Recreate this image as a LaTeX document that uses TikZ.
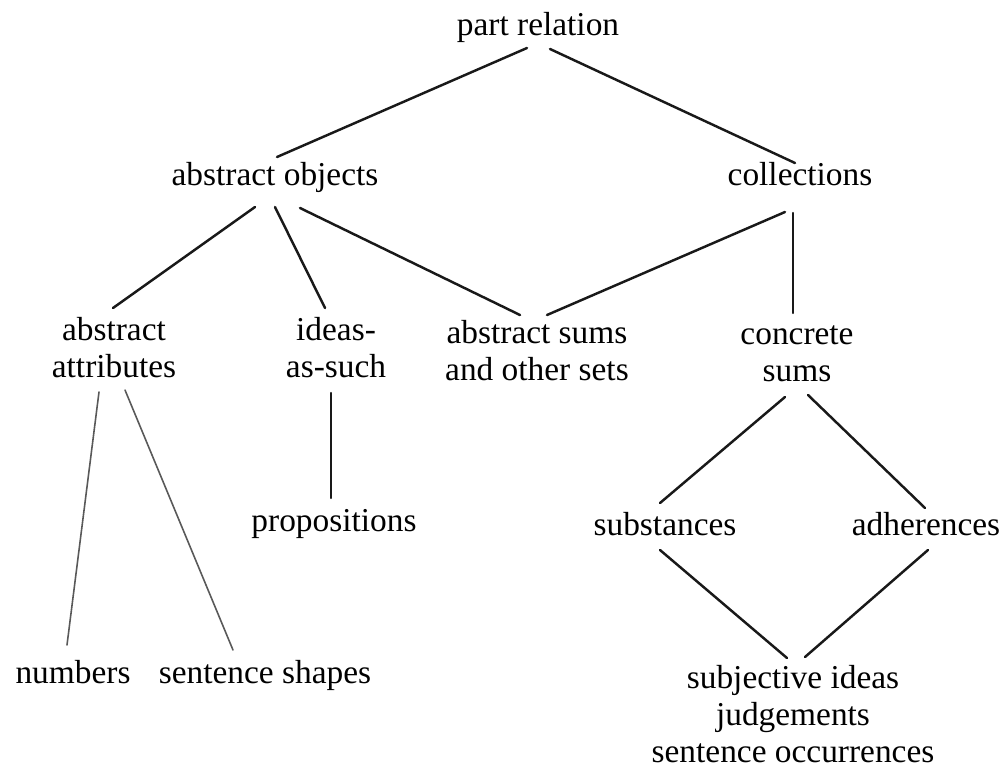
\documentclass[tikz,border=0pt]{standalone}
\usepackage{fontspec}
\setmainfont{Liberation Serif}

\tikzset{
  concept/.style={align=center, anchor=base, inner sep=0pt, font=\fontsize{19}{21}\selectfont},
  link/.style={line width=1.4pt, black!90, line cap=round},
  greylink/.style={line width=0.9pt, black!65, line cap=round},
}

\begin{document}
\begin{tikzpicture}[x=0.02cm, y=-0.02cm]
  \fill[white] (0,0) rectangle (1007,767);

  % top levels
  \node[concept] (part)   at (538, 36)  {part relation};
  \node[concept] (absobj) at (275, 185) {abstract objects};
  \node[concept] (coll)   at (800, 185) {collections};

  % middle row (base = last line)
  \node[concept] (attr)  at (114, 377) {abstract\\attributes};
  \node[concept] (ideas) at (336, 377) {ideas-\\as-such};
  \node[concept] (asums) at (537, 380) {abstract sums\\and other sets};
  \node[concept] (csums) at (797, 381) {concrete\\sums};

  % lower rows
  \node[concept] (props)   at (334, 531) {propositions};
  \node[concept] (subst)   at (665, 535) {substances};
  \node[concept] (adher)   at (926, 535) {adherences};
  \node[concept] (numbers) at (73, 683)  {numbers};
  \node[concept] (shapes)  at (265, 683) {sentence shapes};
  \node[concept] (subj)    at (793, 762) {subjective ideas\\judgements\\sentence occurrences};

  % connectors
  \draw[link] ([shift={(-11,12)}]part.base) -- ([shift={(2,-28)}]absobj.base);
  \draw[link] ([shift={(12,13)}]part.base) -- ([shift={(-5,-22)}]coll.base);
  \draw[link] ([shift={(-20,22)}]absobj.base) -- ([shift={(-1,-69)}]attr.base);
  \draw[link] ([shift={(0,22)}]absobj.base) -- ([shift={(-11,-69)}]ideas.base);
  \draw[link] ([shift={(25,23)}]absobj.base) -- ([shift={(-17,-65)}]asums.base);
  \draw[link] ([shift={(-15,27)}]coll.base) -- ([shift={(10,-65)}]asums.base);
  \draw[link] ([shift={(-7,28)}]coll.base) -- ([shift={(-4,-68)}]csums.base);
  \draw[greylink] ([shift={(-15,15)}]attr.base) -- ([shift={(-6,-38)}]numbers.base);
  \draw[greylink] ([shift={(11,13)}]attr.base) -- ([shift={(-32,-33)}]shapes.base);
  \draw[link] ([shift={(-5,16)}]ideas.base) -- ([shift={(-3,-33)}]props.base);
  \draw[link] ([shift={(-12,16)}]csums.base) -- ([shift={(-5,-32)}]subst.base);
  \draw[link] ([shift={(11,14)}]csums.base) -- ([shift={(-1,-27)}]adher.base);
  \draw[link] ([shift={(-5,15)}]subst.base) -- ([shift={(-6,-104)}]subj.base);
  \draw[link] ([shift={(2,15)}]adher.base) -- ([shift={(12,-105)}]subj.base);
\end{tikzpicture}
\end{document}
